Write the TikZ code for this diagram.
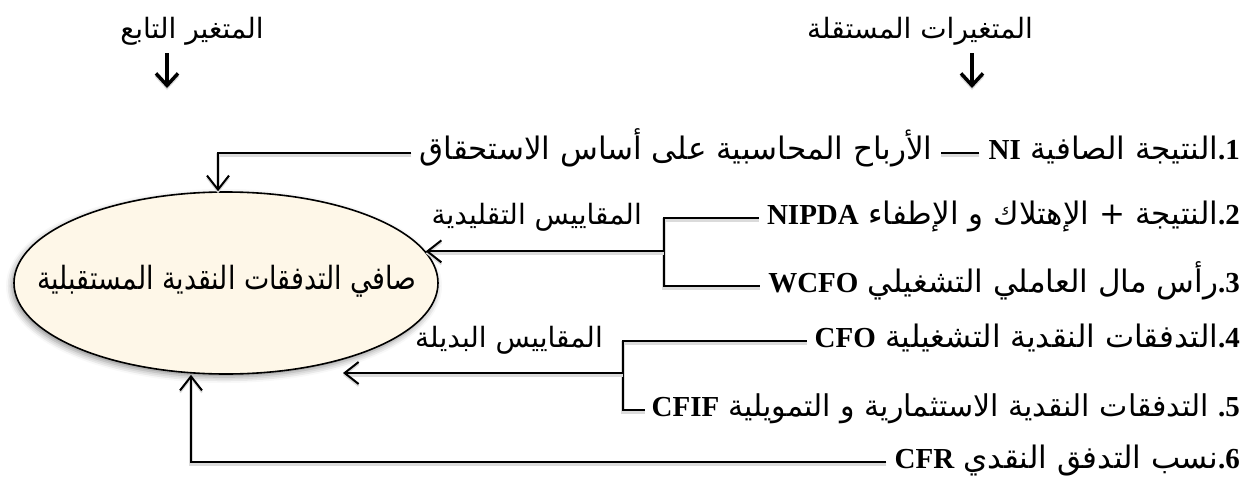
\documentclass[tikz,border=0pt]{standalone}
\usepackage{fontspec}
\usepackage{graphicx}
\TeXXeTstate=1
\newfontfamily\arabicfont[Script=Arabic]{DejaVu Sans}
\newfontfamily\latinfont{Liberation Serif}
\usetikzlibrary{arrows.meta,shapes.geometric,shadows.blur,calc}

\definecolor{cream}{RGB}{254,247,232}
\definecolor{creammid}{RGB}{243,228,200}
\definecolor{creamedge}{RGB}{160,132,96}

% right-to-left Arabic run, bold serif Latin run, list number shown as ".n"
\newcommand{\artxt}[1]{{\arabicfont\beginR #1\endR}}
\newcommand{\lattxt}[1]{{\latinfont\bfseries\fontsize{29}{32}\selectfont #1}}
\newcommand{\itemnum}[1]{{\latinfont\bfseries\fontsize{29}{32}\selectfont\beginR #1\kern0pt.\endR}}

\pgfdeclareradialshading{ellshade}{\pgfpoint{0bp}{12bp}}{%
  color(0bp)=(cream); color(40bp)=(cream); color(48bp)=(creammid);
  color(57bp)=(creamedge); color(64bp)=(creamedge)}

\tikzset{
  item/.style={anchor=base east, inner sep=0pt, font=\fontsize{31}{34}\selectfont},
  lab/.style={anchor=base east, inner sep=0pt, font=\fontsize{28}{32}\selectfont},
  head/.style={anchor=base, inner sep=0pt, font=\fontsize{28}{32}\selectfont},
  soft/.style={preaction={draw=black!14, line width=4pt, transform canvas={yshift=-2pt}}},
  conn/.style={draw=black, line width=2pt, soft},
  tip/.style={-{Straight Barb[length=14pt,width=22pt,line width=2pt]}},
  headarrow/.style={draw=black, line width=3.5pt, soft,
    -{Straight Barb[length=12pt,width=22pt,line width=3.5pt]}},
  target/.style={ellipse, draw=black, line width=1.6pt, inner sep=0pt,
    minimum width=424pt, minimum height=182pt, shading=ellshade,
    blur shadow={shadow xshift=-2pt, shadow yshift=-3pt,
      shadow blur radius=6pt, shadow opacity=45}},
  targettext/.style={anchor=base, inner sep=0pt, font=\fontsize{32}{36}\selectfont}
}

\begin{document}
\begin{tikzpicture}[x=1pt,y=-1pt]
  \useasboundingbox (0,0) rectangle (1248,477);

  % headers and their arrows
  \node[head] (h1) at (192,38) {\artxt{المتغير التابع}};
  \node[head] (h2) at (920,38) {\artxt{المتغيرات المستقلة}};
  \coordinate (h1a) at (167,53);
  \coordinate (h1b) at (167,88);
  \coordinate (h2a) at (972,53);
  \coordinate (h2b) at (972,88);
  \draw[headarrow] (h1a) -- (h1b);
  \draw[headarrow] (h2a) -- (h2b);

  % dependent variable
  \node[target] (E) at (226,283) {};
  \node[targettext] (Et) at (227,289) {\scalebox{0.84}[1]{\artxt{صافي التدفقات النقدية المستقبلية}}};

  % independent variables
  \node[item] (l1) at (1240,159) {\lattxt{NI}\ \artxt{النتيجة الصافية}\itemnum{1}};
  \node[item] (l1b) at ([xshift=-56pt]l1.base west) {\artxt{الأرباح المحاسبية على أساس الاستحقاق}};
  \node[item] (l2) at (1240,224) {\lattxt{NIPDA}\ \artxt{النتيجة + الإهتلاك و الإطفاء}\itemnum{2}};
  \node[item] (l3) at (1240,292) {\lattxt{WCFO}\ \artxt{رأس مال العاملي التشغيلي}\itemnum{3}};
  \node[item] (l4) at (1240,347) {\lattxt{CFO}\ \artxt{التدفقات النقدية التشغيلية}\itemnum{4}};
  \node[item, font=\fontsize{30}{34}\selectfont] (l5) at (1240,416) {\lattxt{CFIF}\ \artxt{التدفقات النقدية الاستثمارية و التمويلية}\ \itemnum{5}};
  \node[item] (l6) at (1240,468) {\lattxt{CFR}\ \artxt{نسب التدفق النقدي}\itemnum{6}};

  % group labels
  \coordinate (b23x) at (664,0);
  \coordinate (b45) at (623,373);
  \coordinate (t45) at (343,373);
  \node[lab] (m1) at (642,224) {\artxt{المقاييس التقليدية}};
  \node[lab] (m2) at (603,347) {\artxt{المقاييس البديلة}};

  % connectors
  \draw[conn] ([xshift=-9pt,yshift=6pt]l1.base west) -- ([xshift=9pt,yshift=6pt]l1b.base east);
  \draw[conn,tip] ([xshift=-8pt,yshift=6pt]l1b.base west) -| ([xshift=-8pt]E.north);

  \coordinate (b23) at (E.9 -| b23x);
  \draw[conn] ([xshift=-8pt,yshift=6pt]l2.base west) -| (b23) |- ([xshift=-8pt,yshift=6pt]l3.base west);
  \draw[conn,tip] (b23) -- (E.9);

  \draw[conn] ([xshift=-8pt,yshift=6pt]l4.base west) -| (b45) |- ([xshift=-7pt,yshift=6pt]l5.base west);
  \draw[conn,tip] (b45) -- (t45);

  \draw[conn,tip] ([xshift=-8pt,yshift=6pt]l6.base west) -| ([xshift=-35pt]E.south);
\end{tikzpicture}
\end{document}
